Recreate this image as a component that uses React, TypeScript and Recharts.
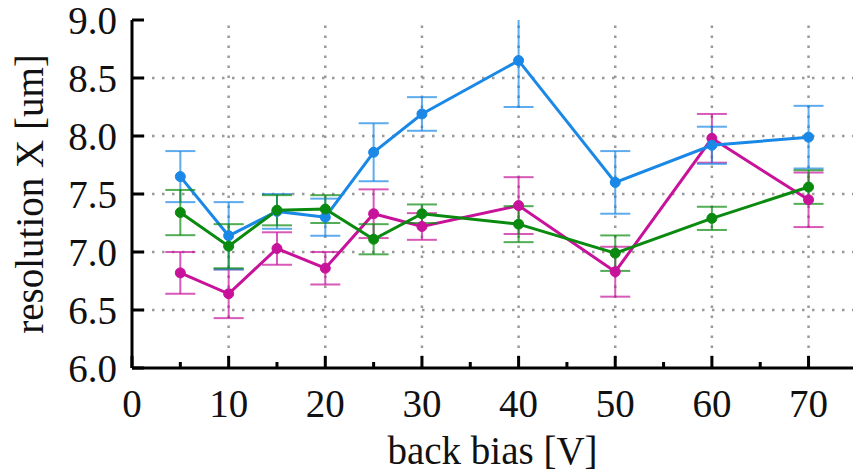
import { LineChart, Line, XAxis, YAxis, ErrorBar, ReferenceLine, Customized } from "recharts";

// back bias values (V)
const biasV = [5, 10, 15, 20, 25, 30, 40, 50, 60, 70];

// resolution X [um] per series, with symmetric errors
const blueRes = [7.65, 7.14, 7.35, 7.3, 7.86, 8.19, 8.65, 7.6, 7.92, 7.99];
const blueErr = [0.22, 0.29, 0.15, 0.16, 0.25, 0.145, 0.4, 0.27, 0.16, 0.27];
const magentaRes = [6.82, 6.64, 7.03, 6.86, 7.33, 7.22, 7.4, 6.83, 7.98, 7.45];
const magentaErr = [0.18, 0.21, 0.14, 0.14, 0.21, 0.115, 0.245, 0.215, 0.21, 0.235];
const greenRes = [7.34, 7.05, 7.36, 7.37, 7.11, 7.33, 7.24, 6.99, 7.29, 7.56];
const greenErr = [0.195, 0.19, 0.13, 0.12, 0.13, 0.08, 0.155, 0.153, 0.1, 0.145];

const xTicks = [0, 5, 10, 15, 20, 25, 30, 35, 40, 45, 50, 55, 60, 65, 70];
const xGrid = [10, 20, 30, 40, 50, 60, 70];
const yTicks = [6.0, 6.5, 7.0, 7.5, 8.0, 8.5, 9.0];
const yGrid = [6.5, 7.0, 7.5, 8.0, 8.5];

const BLUE = "#1a88e6";
const MAGENTA = "#c8129a";
const GREEN = "#0a8a0f";
const FONT = "'Liberation Serif', 'Times New Roman', serif";
const FS = 39;

const data = biasV.map((v, i) => ({
  bias: v,
  blue: blueRes[i],
  blueErr: blueErr[i],
  magenta: magentaRes[i],
  magentaErr: magentaErr[i],
  green: greenRes[i],
  greenErr: greenErr[i],
}));

function BottomTick(props: any) {
  const { x, y, payload } = props;
  const major = payload.value % 10 === 0;
  return (
    <g>
      <line x1={x} y1={y} x2={x} y2={y - (major ? 12 : 6)} stroke="#000" strokeWidth={3} />
      {major && (
        <text x={x} y={y + 49} textAnchor="middle" fontFamily={FONT} fontSize={FS} fill="#111">
          {payload.value}
        </text>
      )}
    </g>
  );
}

function TopTick(props: any) {
  const { x, y, payload } = props;
  const major = payload.value % 10 === 0;
  return <line x1={x} y1={y} x2={x} y2={y + (major ? 12 : 6)} stroke="#000" strokeWidth={3} />;
}

function LeftTick(props: any) {
  const { x, y, payload } = props;
  return (
    <g>
      <line x1={x} y1={y} x2={x + 12} y2={y} stroke="#000" strokeWidth={3} />
      <text x={x - 15} y={y + 14} textAnchor="end" fontFamily={FONT} fontSize={FS} fill="#111">
        {Number(payload.value).toFixed(1)}
      </text>
    </g>
  );
}

function RightTick(props: any) {
  const { x, y } = props;
  return <line x1={x} y1={y} x2={x - 12} y2={y} stroke="#000" strokeWidth={3} />;
}

// clip region for the error bars (plot area)
const PlotClip = () => (
  <defs>
    <clipPath id="plotClip">
      <rect x={132} y={20} width={721} height={348} />
    </clipPath>
  </defs>
);

export default function App() {
  return (
    <div style={{ position: "absolute", left: 0, top: 0 }}>
      <style>{`.recharts-errorBars { clip-path: url(#plotClip); }`}</style>
      <LineChart
        width={854}
        height={472}
        data={data}
        margin={{ top: 20, right: 1, bottom: 0, left: 0 }}
      >
        <Customized component={PlotClip} />
        <XAxis
          dataKey="bias"
          type="number"
          domain={[0, 74.6]}
          ticks={xTicks}
          interval={0}
          height={104}
          tickSize={0}
          tickMargin={0}
          tickLine={false}
          axisLine={{ stroke: "#000", strokeWidth: 3 }}
          tick={<BottomTick />}
          label={{
            content: ({ viewBox }: any) => (
              <text
                x={viewBox.x + viewBox.width / 2}
                y={viewBox.y + 96}
                textAnchor="middle"
                fontFamily={FONT}
                fontSize={FS}
                fill="#111"
              >
                back bias [V]
              </text>
            ),
          }}
        />
        <XAxis
          xAxisId="top"
          orientation="top"
          dataKey="bias"
          type="number"
          domain={[0, 74.6]}
          ticks={xTicks}
          interval={0}
          height={0}
          tickSize={0}
          tickMargin={0}
          tickLine={false}
          axisLine={{ stroke: "#000", strokeWidth: 3 }}
          tick={<TopTick />}
        />
        <YAxis
          type="number"
          domain={[6, 9]}
          allowDataOverflow
          ticks={yTicks}
          interval={0}
          width={132}
          tickSize={0}
          tickMargin={0}
          tickLine={false}
          axisLine={{ stroke: "#000", strokeWidth: 3 }}
          tick={<LeftTick />}
          label={{
            content: ({ viewBox }: any) => {
              const cx = 43;
              const cy = viewBox.y + viewBox.height / 2;
              return (
                <text
                  x={cx}
                  y={cy}
                  transform={`rotate(-90 ${cx} ${cy})`}
                  textAnchor="middle"
                  fontFamily={FONT}
                  fontSize={FS}
                  fill="#111"
                >
                  resolution X [um]
                </text>
              );
            },
          }}
        />
        <YAxis
          yAxisId="right"
          orientation="right"
          type="number"
          domain={[6, 9]}
          allowDataOverflow
          ticks={yTicks}
          interval={0}
          width={0}
          tickSize={0}
          tickMargin={0}
          tickLine={false}
          axisLine={{ stroke: "#000", strokeWidth: 3 }}
          tick={<RightTick />}
        />
        {xGrid.map((v) => (
          <ReferenceLine key={"gx" + v} x={v} stroke="#999" strokeWidth={2.5} strokeDasharray="2.5 7.5" />
        ))}
        {yGrid.map((v) => (
          <ReferenceLine key={"gy" + v} y={v} stroke="#999" strokeWidth={2.5} strokeDasharray="2.5 7.5" />
        ))}
        <Line
          dataKey="magenta"
          stroke={MAGENTA}
          strokeWidth={3}
          dot={{ r: 5, fill: MAGENTA, stroke: MAGENTA, strokeWidth: 1 }}
          isAnimationActive={false}
        >
          <ErrorBar dataKey="magentaErr" direction="y" width={15} stroke={MAGENTA} strokeOpacity={0.7} strokeWidth={2} />
        </Line>
        <Line
          dataKey="blue"
          stroke={BLUE}
          strokeWidth={3}
          dot={{ r: 5, fill: BLUE, stroke: BLUE, strokeWidth: 1 }}
          isAnimationActive={false}
        >
          <ErrorBar dataKey="blueErr" direction="y" width={15} stroke={BLUE} strokeOpacity={0.7} strokeWidth={2} />
        </Line>
        <Line
          dataKey="green"
          stroke={GREEN}
          strokeWidth={3}
          dot={{ r: 5, fill: GREEN, stroke: GREEN, strokeWidth: 1 }}
          isAnimationActive={false}
        >
          <ErrorBar dataKey="greenErr" direction="y" width={15} stroke={GREEN} strokeOpacity={0.7} strokeWidth={2} />
        </Line>
      </LineChart>
    </div>
  );
}
